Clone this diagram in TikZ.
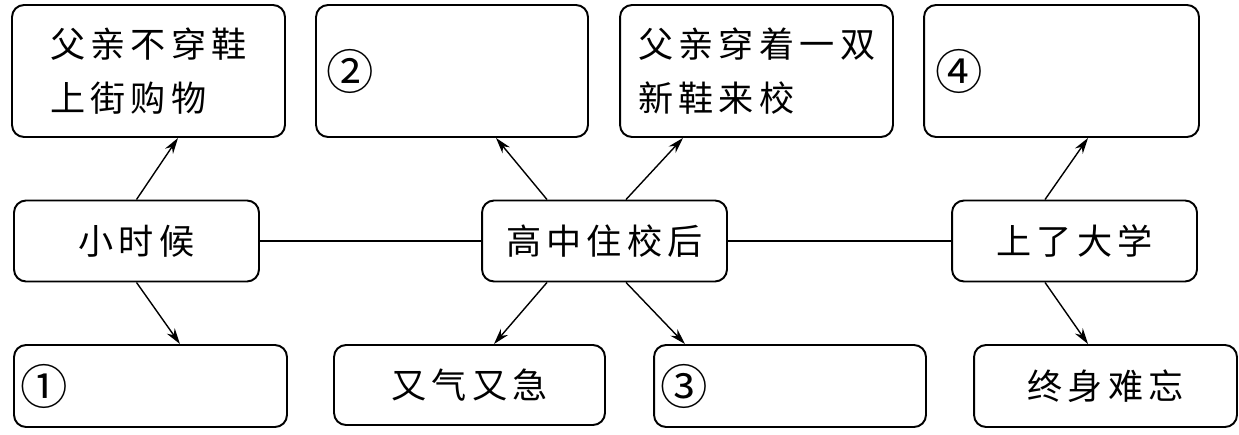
\documentclass[tikz,border=0pt]{standalone}
\usepackage{fontspec}
\newfontfamily\kai[LetterSpace=15]{Noto Sans CJK SC}
\usetikzlibrary{arrows.meta,calc}
\begin{document}
\begin{tikzpicture}[x=0.02cm,y=-0.02cm,
    box/.style={draw,line width=1.1pt,rounded corners=0.24cm,inner ysep=0pt,font=\kai\fontsize{20pt}{31pt}\selectfont},
    upbox/.style={box,minimum height=2.64cm,align=left},
    midbox/.style={box,minimum width=4.9cm,minimum height=1.62cm},
    lowbox/.style={box,minimum height=1.64cm,align=left},
    numtext/.style={font=\kai\fontsize{27pt}{27pt}\selectfont},
    conn/.style={-{Stealth[length=0.32cm,width=0.19cm]},line width=0.8pt},
    link/.style={line width=1.1pt}]
  \useasboundingbox (0,0) rectangle (1239,435);

  % top row
  \node[upbox,text width=3.94cm,inner xsep=0.76cm] (buy) at (148.5,71) {父亲不穿鞋\\上街购物};
  \node[upbox,numtext,text width=5.04cm,inner xsep=0.2cm] (two) at (452,71) {②};
  \node[upbox,text width=4.74cm,inner xsep=0.36cm] (shoe) at (756.5,71) {父亲穿着一双\\新鞋来校};
  \node[upbox,numtext,text width=5.06cm,inner xsep=0.22cm] (four) at (1061.5,71) {④};

  % middle row
  \node[midbox] (kid) at (136.5,241) {小时候};
  \node[midbox] (school) at (604.5,241) {高中住校后};
  \node[midbox] (college) at (1074.5,241) {上了大学};

  % bottom row
  \node[lowbox,numtext,text width=5.22cm,inner xsep=0.12cm] (one) at (150.5,386) {①};
  \node[box,minimum width=5.42cm,minimum height=1.6cm] (angry) at (469.5,385) {又气又急};
  \node[lowbox,numtext,text width=5.2cm,inner xsep=0.12cm] (three) at (790,386) {③};
  \node[box,minimum width=5.26cm,minimum height=1.64cm] (never) at (1105.5,386) {终身难忘};

  \draw[link] (kid) -- (school);
  \draw[link] (school) -- (college);

  \draw[conn] (kid.north) -- ($(buy.south)+(29.5,0)$); % up
  \draw[conn] (kid.south) -- ($(one.north)+(29.5,0)$); % down

  \draw[conn] ($(school.north)+(-57.5,0)$) -- ($(two.south)+(44,0)$);
  \draw[conn] ($(school.north)+(21.5,0)$) -- ($(shoe.south)+(-73.5,0)$);
  \draw[conn] ($(school.south)+(-57.5,0)$) -- ($(angry.north)+(24.5,0)$);
  \draw[conn] ($(school.south)+(21.5,0)$) -- ($(three.north)+(-105,0)$);

  \draw[conn] ($(college.north)+(-29.5,0)$) -- ($(four.south)+(26.5,0)$);
  \draw[conn] ($(college.south)+(-29.5,0)$) -- ($(never.north)+(-17.5,0)$);
\end{tikzpicture}
\end{document}
